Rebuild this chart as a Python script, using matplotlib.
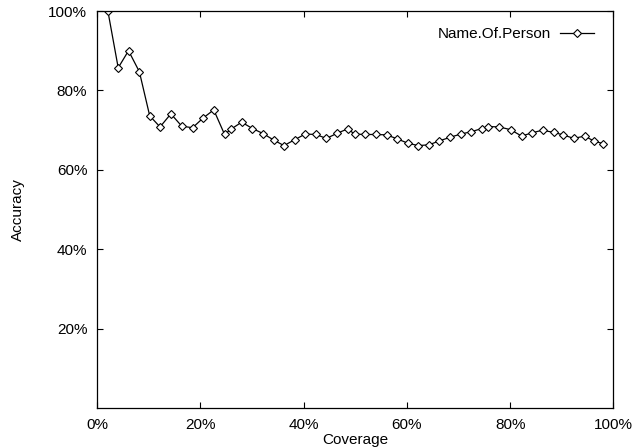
import matplotlib
matplotlib.use("Agg")
import matplotlib.pyplot as plt
from matplotlib.ticker import FuncFormatter

plt.rcParams['font.family'] = ['Liberation Sans', 'DejaVu Sans']

# данные (покрытие, %; точность, %)
coverage = [2.1, 4.1, 6.1, 8.2, 10.2, 12.2, 14.3, 16.4, 18.5, 20.5,
            22.6, 24.7, 25.9, 28.0, 30.1, 32.2, 34.2, 36.2, 38.3, 40.3,
            42.4, 44.4, 46.5, 48.5, 49.9, 51.9, 54.0, 56.1, 58.1, 60.2,
            62.2, 64.3, 66.3, 68.4, 70.4, 72.5, 74.5, 75.8, 77.9, 80.1,
            82.2, 84.2, 86.3, 88.4, 90.3, 92.3, 94.4, 96.3, 98.0]
accuracy = [100.0, 85.7, 90.0, 84.7, 73.6, 70.8, 74.1, 71.0, 70.6, 73.0,
            75.1, 68.9, 70.2, 72.0, 70.4, 69.1, 67.5, 66.1, 67.6, 69.0,
            68.9, 67.9, 69.2, 70.3, 69.0, 68.9, 68.9, 68.8, 67.8, 66.7,
            66.1, 66.3, 67.3, 68.2, 69.0, 69.6, 70.4, 70.9, 70.8, 70.1,
            68.5, 69.3, 70.0, 69.4, 68.8, 67.9, 68.5, 67.2, 66.6]
series_name = "Name.Of.Person"
x_ticks = [0, 20, 40, 60, 80, 100]
y_ticks = [20, 40, 60, 80, 100]

fig = plt.figure(figsize=(6.35, 4.48), dpi=100)
ax = fig.add_axes([0.1528, 0.0893, 0.8133, 0.8861])

ax.plot(coverage, accuracy, color='black', linewidth=0.9,
        marker='D', markersize=4.3, markerfacecolor='white',
        markeredgecolor='black', markeredgewidth=0.8, label=series_name)

ax.set_xlim(0, 100)
ax.set_ylim(0, 100)
ax.set_xticks(x_ticks)
ax.set_yticks(y_ticks)
pct = FuncFormatter(lambda v, p: f"{v:.0f}%")
ax.xaxis.set_major_formatter(pct)
ax.yaxis.set_major_formatter(pct)
ax.tick_params(direction='in', length=4, width=0.8, labelsize=11,
               top=True, right=True, pad=7, colors='black')

for s in ax.spines.values():
    s.set_linewidth(0.9)

ax.set_xlabel("Coverage", fontsize=11)
ax.set_ylabel("Accuracy", fontsize=11)
ax.xaxis.set_label_coords(0.5, -0.081)
ax.xaxis.label.set_va('center')
ax.yaxis.set_label_coords(-0.153, 0.5)
ax.yaxis.label.set_va('center')

ax.legend(loc='upper right', bbox_to_anchor=(0.974, 0.975), frameon=False,
          markerfirst=False, fontsize=11, handlelength=2.2,
          handletextpad=0.6, borderaxespad=0)

fig.savefig("out.png", dpi=100)
